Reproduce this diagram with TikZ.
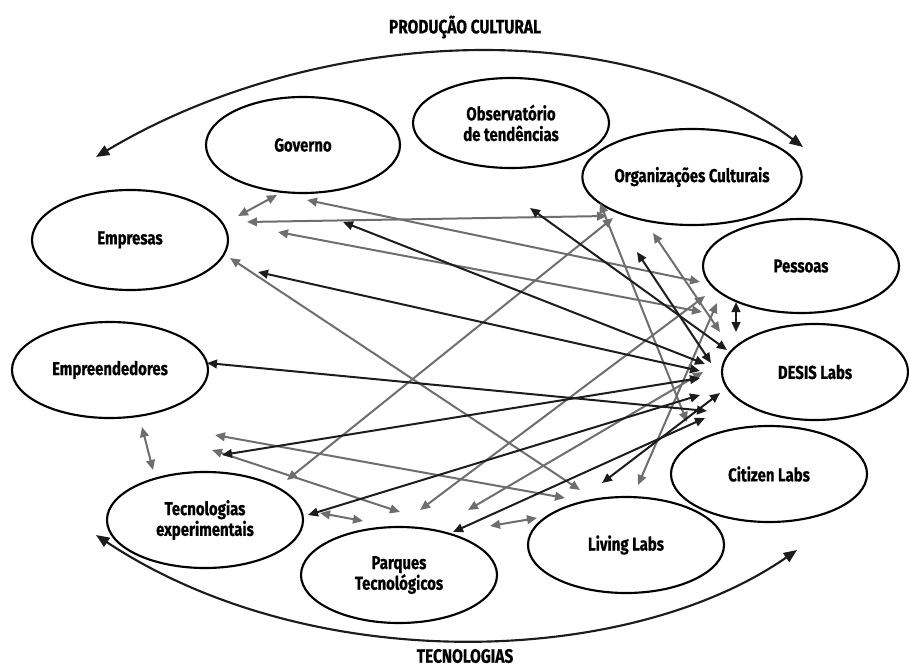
\documentclass[tikz,border=0pt]{standalone}
\usepackage{fontspec}
\setmainfont{Fira Sans}[FakeStretch=0.8, BoldFeatures={FakeBold=0.6}]
\usepackage{xcolor}
\usepackage{tikz}
\usetikzlibrary{arrows.meta,shapes.geometric,calc}

\definecolor{linkgray}{HTML}{6E6E6E}
\definecolor{linkblack}{HTML}{1C1C1C}

\begin{document}
\begin{tikzpicture}[
    x=0.75pt, y=-0.75pt,
    actor/.style={ellipse, draw=black, line width=1.6pt, inner sep=0pt,
                  align=center, minimum width=147pt, minimum height=72pt,
                  font=\bfseries\fontsize{14}{15.5}\selectfont},
    headline/.style={font=\bfseries\fontsize{14.5}{16}\selectfont, inner sep=1pt},
    glink/.style={{Triangle[length=7.5pt,width=6.5pt]}-{Triangle[length=7.5pt,width=6.5pt]},
                  line width=1.5pt, linkgray},
    blink/.style={{Triangle[length=7.5pt,width=6.5pt]}-{Triangle[length=7.5pt,width=6.5pt]},
                  line width=1.5pt, linkblack},
    bigarc/.style={{Triangle[length=10pt,width=8pt]}-{Triangle[length=10pt,width=8pt]},
                   line width=1.6pt, linkblack}
]

\useasboundingbox (0,0) rectangle (909,670);

% actors
\node[actor, minimum width=145.5pt] (gov) at (303,145) {Governo};
\node[actor, minimum height=67.5pt] (obs) at (511,123) {Observatório\\de tendências};
\node[actor] (org) at (692,177) {Organizações Culturais};
\node[actor, minimum height=75pt] (emp) at (130,240) {Empresas};
\node[actor] (empr) at (110,370) {Empreendedores};
\node[actor, minimum height=70.5pt] (pes) at (801,266) {Pessoas};
\node[actor, minimum width=139.5pt] (desis) at (815,372) {DESIS Labs};
\node[actor] (cit) at (769,474) {Citizen Labs};
\node[actor] (liv) at (626,545) {Living Labs};
\node[actor] (parq) at (399,575) {Parques\\Tecnológicos};
\node[actor] (tec) at (205,520) {Tecnologias\\experimentais};

\node[headline] (prod) at (465,27) {PRODUÇÃO CULTURAL};
\node[headline] (tecn) at (465,656) {TECNOLOGIAS};

% big cycles
\coordinate (arcNW) at (96,157);
\coordinate (arcNE) at (803,147);
\coordinate (arcSW) at (96,535);
\coordinate (arcSE) at (797,550);
\draw[bigarc] (arcNW) .. controls (306,31) and (616,7) .. (arcNE);
\draw[bigarc] (arcSW) .. controls (312,678) and (629,667) .. (arcSE);

% gray links
\draw[glink] ($(gov)+(-26,50)$) -- ($(emp)+(108,-24)$);
\draw[glink] ($(emp)+(117,-18)$) -- ($(org)+(-85,39)$);
\draw[glink] ($(gov)+(4,55)$) -- ($(pes)+(-101,16)$);
\draw[glink] ($(emp)+(148,-8)$) -- ($(pes)+(-99,46)$);
\draw[glink] ($(emp)+(100,18)$) -- ($(liv)+(-46,-55)$);
\draw[glink] ($(tec)+(82,-40)$) -- ($(org)+(-79,41)$);
\draw[glink] ($(parq)+(21,-65)$) -- ($(pes)+(-96,30)$);
\draw[glink] ($(parq)+(69,-65)$) -- ($(desis)+(-112,0)$);
\draw[glink] ($(liv)+(12,-60)$) -- ($(pes)+(-84,37)$);
\draw[glink] ($(org)+(-39,56)$) -- ($(desis)+(-95,-40)$);
\draw[glink] ($(org)+(-92,26)$) -- ($(cit)+(-82,-52)$);
\draw[glink] ($(tec)+(10,-85)$) -- ($(liv)+(-61,-47)$);
\draw[glink] ($(tec)+(7,-70)$) -- ($(parq)+(1,-63)$);
\draw[glink] ($(tec)+(115,-7)$) -- ($(parq)+(-36,-54)$);
\draw[glink] ($(parq)+(91,-49)$) -- ($(liv)+(-89,-27)$);
\draw[glink] ($(empr)+(32,57)$) -- ($(tec)+(-52,-50)$);

% black links
\draw[blink] ($(obs)+(19,85)$) -- ($(desis)+(-88,-22)$);
\draw[blink] ($(org)+(-55,75)$) -- ($(desis)+(-104,-9)$);
\draw[blink] ($(gov)+(40,77)$) -- ($(desis)+(-110,-8)$);
\draw[blink] ($(emp)+(128,32)$) -- ($(desis)+(-115,-1)$);
\draw[blink] ($(empr)+(97,-7)$) -- ($(desis)+(-108,39)$);
\draw[blink] ($(tec)+(17,-65)$) -- ($(desis)+(-115,6)$);
\draw[blink] ($(tec)+(103,-5)$) -- ($(desis)+(-115,23)$);
\draw[blink] ($(parq)+(54,-43)$) -- ($(desis)+(-110,46)$);
\draw[blink] ($(liv)+(-24,-62)$) -- ($(desis)+(-95,21)$);
\draw[blink] ($(pes)+(-65,36)$) -- ($(desis)+(-79,-40)$);

\end{tikzpicture}
\end{document}
